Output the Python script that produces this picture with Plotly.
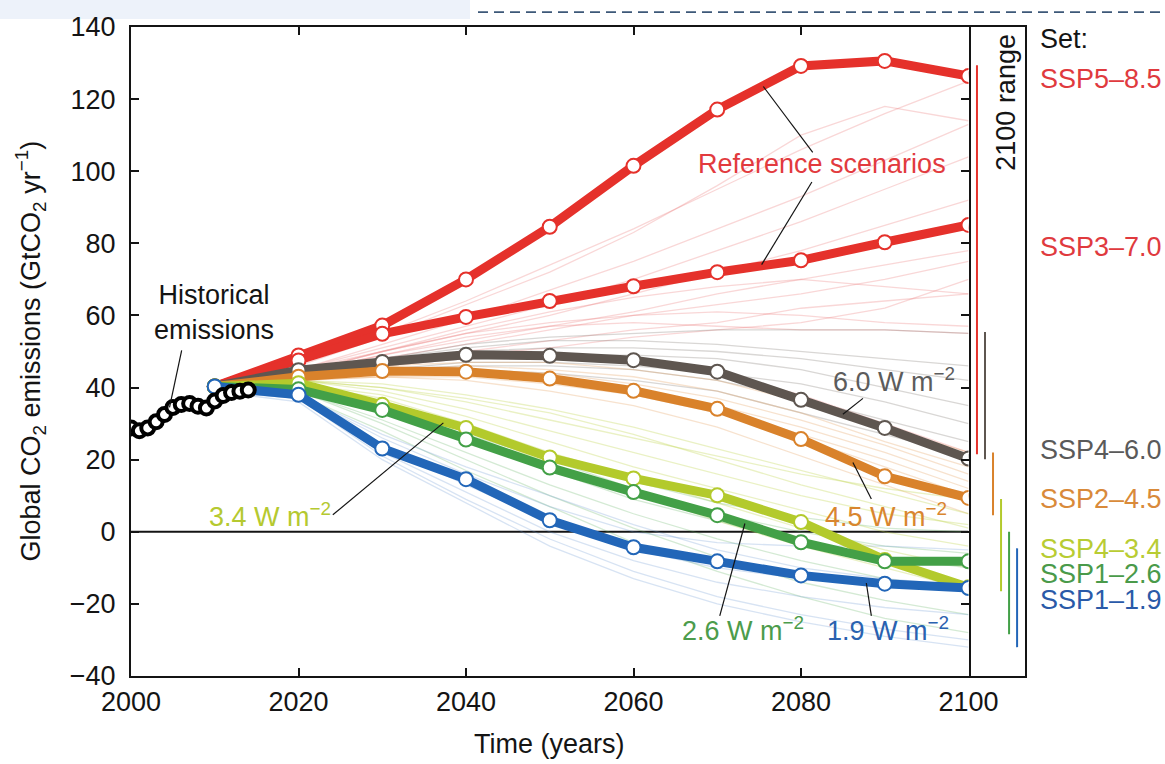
import plotly.graph_objects as go

# ---------------- data ----------------
years = [2010, 2020, 2030, 2040, 2050, 2060, 2070, 2080, 2090, 2100]
hist_years = list(range(2000, 2015))
hist_values = [28.8, 28.0, 28.8, 30.5, 32.5, 34.5, 35.3, 35.6, 34.8, 34.3, 36.3, 37.8, 38.6, 39.0, 39.3]

ssp585 = [40.3, 48.9, 57.2, 70.0, 84.6, 101.5, 117.1, 129.2, 130.6, 126.4]
ssp370 = [40.3, 47.5, 54.9, 59.6, 64.0, 68.1, 72.0, 75.3, 80.3, 85.1]
ssp460 = [40.3, 44.8, 47.1, 49.1, 48.8, 47.6, 44.4, 36.6, 28.8, 20.3]
ssp245 = [40.3, 43.0, 44.6, 44.4, 42.5, 39.1, 34.1, 25.7, 15.4, 9.4]
ssp434 = [40.3, 41.2, 35.2, 28.8, 20.6, 14.8, 10.1, 2.7, -7.8, -15.4]
ssp126 = [40.3, 39.5, 33.8, 25.6, 17.8, 11.0, 4.6, -2.9, -8.2, -8.2]
ssp119 = [40.3, 38.0, 23.1, 14.6, 3.2, -4.3, -8.2, -12.1, -14.4, -15.6]

thin_ref = [
    [39, 47, 55, 64, 74, 84, 95, 106, 116, 125],
    [39, 46, 54, 63, 72, 83, 96, 110, 118, 114],
    [39, 45, 52, 59, 67, 75, 84, 93, 103, 113],
    [39, 45, 51, 57, 63, 70, 78, 86, 95, 104],
    [39, 44, 50, 55, 60, 66, 72, 78, 85, 92],
    [39, 44, 49, 53, 57, 61, 66, 70, 74, 78],
    [39, 44, 48, 52, 56, 60, 63, 66, 70, 75],
    [39, 43, 47, 50, 53, 56, 58, 62, 64, 66],
    [39, 43, 46, 49, 51, 54, 56, 58, 62, 70],
    [39, 44, 50, 56, 61, 65, 68, 70, 68, 66],
    [39, 44, 49, 54, 57, 58, 57, 56, 56, 55],
    [39, 45, 50, 55, 58, 60, 61, 60, 58, 57],
    [39, 43, 46, 48, 49, 48, 44, 38, 30, 22],
]
thin_60 = [
    [39, 44, 48, 52, 54, 55, 56, 56, 56, 55],
    [39, 44, 47, 50, 51, 51, 50, 48, 45, 42],
    [39, 43, 46, 48, 49, 49, 48, 45, 40, 35],
    [39, 43, 45, 47, 47, 46, 44, 41, 36, 30],
    [39, 43, 45, 46, 46, 45, 42, 37, 31, 25],
    [39, 42, 44, 45, 44, 42, 39, 33, 27, 21],
    [39, 44, 48, 51, 53, 53, 52, 50, 48, 46],
]
thin_45 = [
    [39, 43, 46, 47, 47, 45, 42, 36, 29, 22],
    [39, 43, 45, 46, 45, 43, 39, 33, 25, 18],
    [39, 42, 44, 44, 43, 40, 35, 29, 22, 14],
    [39, 42, 43, 43, 41, 38, 33, 26, 18, 10],
    [39, 42, 43, 42, 39, 35, 29, 21, 13, 5],
    [39, 42, 44, 45, 44, 41, 37, 31, 24, 16],
    [39, 43, 45, 45, 43, 39, 34, 27, 20, 12],
]
thin_34 = [
    [39, 42, 40, 36, 31, 26, 21, 16, 12, 9],
    [39, 42, 39, 34, 28, 22, 16, 10, 5, 2],
    [39, 41, 38, 32, 25, 18, 12, 6, 0, -4],
    [39, 41, 37, 30, 22, 15, 8, 1, -5, -10],
    [39, 41, 36, 28, 19, 11, 3, -4, -10, -16],
    [39, 42, 41, 38, 34, 29, 23, 17, 11, 5],
    [39, 42, 40, 37, 33, 27, 20, 13, 7, 1],
]
thin_26 = [
    [39, 40, 35, 28, 21, 14, 8, 4, 1, 0],
    [39, 40, 33, 25, 17, 9, 3, -3, -7, -10],
    [39, 39, 31, 22, 13, 5, -2, -8, -13, -16],
    [39, 39, 30, 20, 10, 1, -7, -14, -19, -23],
    [39, 38, 28, 17, 7, -3, -11, -18, -24, -28],
    [39, 40, 34, 27, 20, 12, 5, 0, -4, -6],
]
thin_19 = [
    [39, 38, 26, 16, 7, 0, -3, -4, -4, -5],
    [39, 38, 24, 13, 3, -5, -10, -13, -15, -16],
    [39, 37, 22, 11, 0, -8, -14, -18, -21, -23],
    [39, 37, 21, 9, -2, -11, -18, -23, -27, -30],
    [39, 36, 20, 8, -4, -13, -20, -25, -29, -32],
    [39, 38, 27, 18, 10, 2, -5, -10, -13, -15],
]

set_labels = ["SSP5–8.5", "SSP3–7.0", "SSP4–6.0", "SSP2–4.5", "SSP4–3.4", "SSP1–2.6", "SSP1–1.9"]
range_low = [21.5, 20.1, 4.6, -16.5, -28.4, -32.0]
range_high = [129.4, 55.4, 22.0, 9.1, 0.0, -4.6]

forcing_labels = ["6.0 W m<sup>−2</sup>", "4.5 W m<sup>−2</sup>", "3.4 W m<sup>−2</sup>",
                  "2.6 W m<sup>−2</sup>", "1.9 W m<sup>−2</sup>"]

# ---------------- style ----------------
RED = "#e5312b"
GRAY = "#5e5650"
ORANGE = "#d9822b"
YELLOW = "#b3ca2c"
GREEN = "#43a047"
BLUE = "#2266b8"
FONT = "Liberation Sans, Arial, Helvetica, sans-serif"
INK = "#141414"
FS = 27

fig = go.Figure()

thin_groups = [
    (thin_ref, "rgba(235,110,110,0.28)"),
    (thin_60, "rgba(120,110,105,0.28)"),
    (thin_45, "rgba(225,150,80,0.28)"),
    (thin_34, "rgba(190,210,70,0.32)"),
    (thin_26, "rgba(90,175,90,0.26)"),
    (thin_19, "rgba(100,145,210,0.26)"),
]
for group, col in thin_groups:
    for vals in group:
        fig.add_trace(go.Scatter(x=years, y=vals, mode="lines",
                                 line=dict(color=col, width=1.3),
                                 hoverinfo="skip", showlegend=False))

main = [
    (ssp585, RED), (ssp370, RED), (ssp460, GRAY), (ssp245, ORANGE),
    (ssp434, YELLOW), (ssp126, GREEN), (ssp119, BLUE),
]
for vals, col in main:
    fig.add_trace(go.Scatter(x=years, y=vals, mode="lines+markers",
                             line=dict(color=col, width=9),
                             marker=dict(size=14, color="white", line=dict(color=col, width=2)),
                             showlegend=False))

fig.add_trace(go.Scatter(x=hist_years, y=hist_values, mode="markers",
                         marker=dict(size=13, color="white", line=dict(color="black", width=4)),
                         showlegend=False))

# 2100 range bars in the side panel
range_cols = [RED, GRAY, ORANGE, YELLOW, GREEN, BLUE]
for i, (lo, hi) in enumerate(zip(range_low, range_high)):
    xp = 0.15 + i * 0.142
    fig.add_trace(go.Scatter(x=[xp, xp], y=[lo, hi], mode="lines",
                             line=dict(color=range_cols[i], width=2),
                             xaxis="x2", yaxis="y2", showlegend=False))

# ---------------- layout ----------------
split = 837.5 / 894
fig.update_layout(
    width=1165, height=764,
    margin=dict(l=131, r=140, t=20, b=88),
    paper_bgcolor="white", plot_bgcolor="white",
    font=dict(family=FONT, size=FS, color=INK),
    xaxis=dict(domain=[0, split], range=[2000, 2100], tickvals=[2000, 2020, 2040, 2060, 2080, 2100],
               ticks="inside", ticklen=8, tickwidth=2, tickcolor=INK,
               showline=True, linewidth=2, linecolor=INK, mirror="ticks",
               showgrid=False, zeroline=False, tickfont=dict(size=FS, color=INK),
               ticklabelstandoff=1),
    yaxis=dict(range=[-40, 140], tickvals=[-40, -20, 0, 20, 40, 60, 80, 100, 120, 140],
               ticks="inside", ticklen=8, tickwidth=2, tickcolor=INK,
               showline=True, linewidth=2, linecolor=INK, mirror="ticks",
               showgrid=False, zeroline=False, tickfont=dict(size=FS, color=INK),
               ticklabelstandoff=8),
    xaxis2=dict(domain=[split, 1], range=[0, 1], showticklabels=False, ticks="",
                showline=True, linewidth=2, linecolor=INK, mirror=True,
                showgrid=False, zeroline=False, anchor="y2"),
    yaxis2=dict(range=[-40, 140], anchor="x2", side="right", showticklabels=False, ticks="",
                showline=True, linewidth=2, linecolor=INK, mirror=False,
                showgrid=False, zeroline=False),
)

shapes = []
# zero line
shapes.append(dict(type="line", xref="x", yref="y", x0=2000, x1=2100, y0=0, y1=0,
                   line=dict(color=INK, width=2), layer="below"))
# callout lines
callouts = [
    (2006.05, 50.3, 2004.6, 34.5),
    (2081.4, 105.2, 2075.5, 123.5),
    (2081.3, 97.0, 2075.3, 74.1),
    (2087.4, 37.0, 2085.0, 32.6),
    (2088.4, 9.1, 2086.2, 19.2),
    (2024.1, 4.7, 2037.3, 30.2),
    (2070.3, -23.3, 2073.3, 2.3),
    (2088.4, -23.3, 2087.8, -14.2),
]
for x0, y0, x1, y1 in callouts:
    shapes.append(dict(type="line", xref="x", yref="y", x0=x0, y0=y0, x1=x1, y1=y1,
                       line=dict(color=INK, width=1.2)))
# page decoration at the top
shapes.append(dict(type="rect", xref="paper", yref="paper",
                   x0=(0 - 131) / 894, x1=(470 - 131) / 894,
                   y0=(676 - 12) / 656, y1=(676 + 0) / 656 + 0.05,
                   fillcolor="#edf2fa", line=dict(width=0), layer="below"))
shapes.append(dict(type="line", xref="paper", yref="paper",
                   x0=(478 - 131) / 894, x1=(1165 - 131) / 894,
                   y0=(676 - 5) / 656, y1=(676 - 5) / 656,
                   line=dict(color="#3d5878", width=1.6, dash="10px,6px")))
fig.update_layout(shapes=shapes)

ann = []
def add_text(text, x, y, color, xref="x", yref="y", xanchor="center", angle=0, size=FS):
    ann.append(dict(text=text, x=x, y=y, xref=xref, yref=yref, showarrow=False,
                    xanchor=xanchor, yanchor="middle", textangle=angle,
                    font=dict(family=FONT, size=size, color=color)))

add_text("Historical<br>emissions", 2009.9, 60.9, INK)
add_text("Reference scenarios", 2082.5, 102.1, "#e23a3e")
fcols = ["#5c5c5c", "#d9862f", "#b5c930", "#4c9c4c", "#2a62b0"]
fpos = [(2091.1, 42.0), (2090.2, 4.7), (2016.6, 4.7), (2073.1, -26.9), (2090.4, -26.9)]
for lab, col, (px, py) in zip(forcing_labels, fcols, fpos):
    add_text(lab, px, py, col)

# side labels
lab_y = [73, 242, 448, 497, 548, 573, 599]
lab_cols = ["#e03a3e", "#e03a3e", "#5a5a5a", "#d98a3a", "#b8cc33", "#4a9a4a", "#2a5aa8"]
xl = (1038 - 131) / 894
add_text("Set:", xl, (676 - 32) / 656, INK, xref="paper", yref="paper", xanchor="left")
for lab, py, col in zip(set_labels, lab_y, lab_cols):
    add_text(lab, xl, (676 - py) / 656, col, xref="paper", yref="paper", xanchor="left")

add_text("2100 range", (1006 - 131) / 894, (676 - 96.5) / 656, INK, xref="paper", yref="paper", angle=-90)
add_text("Global CO<sub>2</sub> emissions (GtCO<sub>2</sub> yr<sup>−1</sup>)", (30 - 131) / 894, 0.5, INK,
         xref="paper", yref="paper", angle=-90)
add_text("Time (years)", split / 2, (676 - 745) / 656, INK, xref="paper", yref="paper")

fig.update_layout(annotations=ann)

fig.write_html("out.html")
